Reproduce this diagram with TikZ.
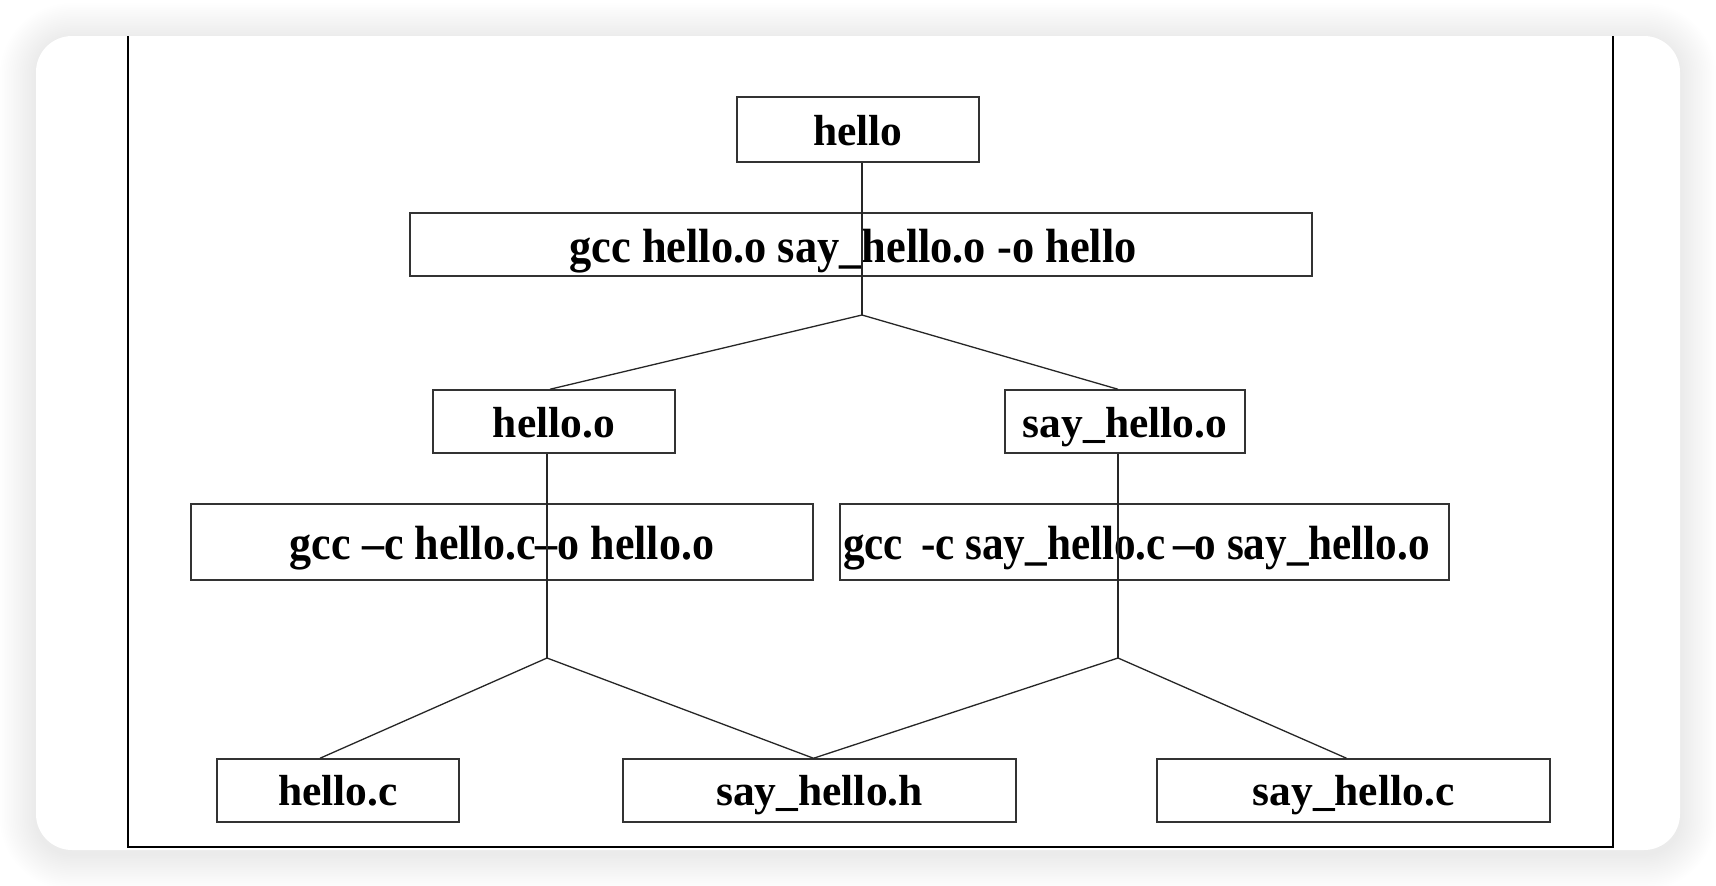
\documentclass[tikz,border=0pt]{standalone}
\usepackage{fontspec}
\usepackage{graphicx}
\setmainfont{Liberation Serif}
\usetikzlibrary{calc}
\begin{document}
\begin{tikzpicture}[x=1pt,y=-1pt,
  filebox/.style={draw=black!80, line width=1.5pt, inner sep=0pt, text depth=0pt,
    font=\fontsize{43.5}{44}\selectfont\bfseries},
  cmdbox/.style={draw=black!80, line width=1.5pt, inner sep=0pt, text depth=0pt,
    font=\fontsize{48}{49}\selectfont\bfseries},
  link/.style={draw=black!85, line width=1.3pt},
  frame/.style={draw=black, line width=1.6pt}]
\useasboundingbox (0,0) rectangle (1716,886);
\fill[white] (0,0) rectangle (1716,886);
% soft shadow
\foreach \i in {1,...,20}{
  \fill[black, fill opacity=0.005, rounded corners={36pt+1.8pt*\i}]
    ($(36,39)+(-1.8*\i,-1.8*\i)$) rectangle ($(1680,854)+(1.8*\i,1.8*\i)$);
}
\fill[white, rounded corners=36pt] (36,36) rectangle (1680,850);
% frame
\coordinate (ftl) at (128,36);
\coordinate (fbl) at (128,847);
\coordinate (fbr) at (1613,847);
\coordinate (ftr) at (1613,36);
\draw[frame] (ftl) -- (fbl) -- (fbr) -- (ftr);
% boxes
\node[filebox, minimum width=242pt, minimum height=65pt, text height=31pt] (hello) at (858,129.5) {hello};
\node[cmdbox, minimum width=902pt, minimum height=63pt, text height=35pt] (link) at (861,244.5)
  {\hspace*{-16pt}\scalebox{0.925}[1]{gcc hello.o say\_hello.o -o hello}};
\node[filebox, minimum width=242pt, minimum height=63pt, text height=31pt] (ho) at (554,421.5) {hello.o};
\node[filebox, minimum width=240pt, minimum height=63pt, text height=31pt] (sho) at (1125,421.5) {say\_hello.o};
\node[cmdbox, minimum width=622pt, minimum height=76pt, text height=34pt] (cl) at (502,542)
  {\scalebox{0.917}[1]{gcc –c hello.c–o hello.o}};
\node[cmdbox, minimum width=609pt, minimum height=76pt, text height=34pt] (cr) at (1144.5,542)
  {\hspace*{-16pt}\scalebox{0.9}[1]{gcc \,-c say\_hello.c\,–o say\_hello.o}};
\node[filebox, minimum width=242pt, minimum height=63pt, text height=29pt] (hc) at (338,790.5) {hello.c};
\node[filebox, minimum width=393pt, minimum height=63pt, text height=29pt] (shh) at (819.5,790.5) {say\_hello.h};
\node[filebox, minimum width=393pt, minimum height=63pt, text height=29pt] (shc) at (1353.5,790.5) {say\_hello.c};
% junctions
\coordinate (j1) at (862,315);
\coordinate (j2) at (547,658);
\coordinate (j3) at (1118,658);
% connectors
\draw[link] (j1 |- hello.south) -- (j1);
\draw[link] (j1) -- ($(ho.north)+(-4,0)$);
\draw[link] (j1) -- ($(sho.north)+(-7,0)$);
\draw[link] (j2 |- ho.south) -- (j2);
\draw[link] (j3 |- sho.south) -- (j3);
\draw[link] (j2) -- ($(hc.north)+(-18,0)$);
\draw[link] (j2) -- ($(shh.north)+(-6,0)$);
\draw[link] (j3) -- ($(shh.north)+(-6,0)$);
\draw[link] (j3) -- ($(shc.north)+(-7,0)$);
\end{tikzpicture}
\end{document}
